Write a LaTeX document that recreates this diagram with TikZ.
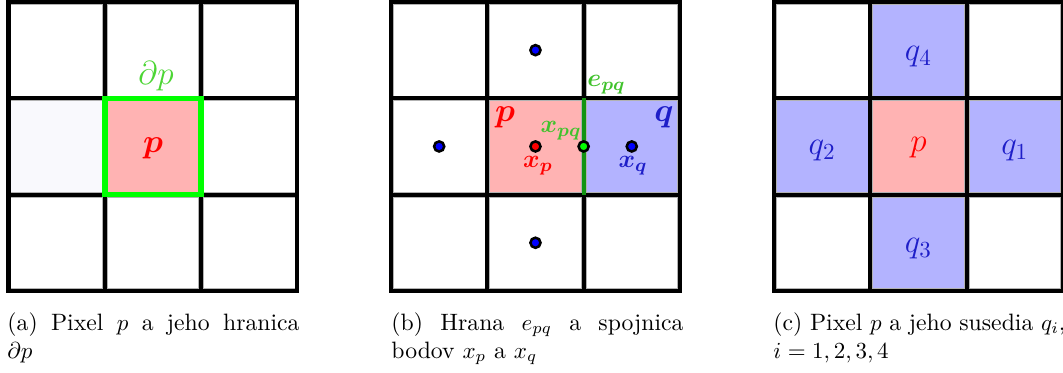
\documentclass[tikz,border=0pt]{standalone}
\usepackage{amsmath,bm}
\usetikzlibrary{calc}
\definecolor{pfill}{HTML}{FFB3B3}
\definecolor{qfill}{HTML}{B3B3FF}
\definecolor{faint}{HTML}{F9F9FD}
\definecolor{lgreen}{HTML}{4CD634}
\definecolor{egreen}{HTML}{40C22C}
\definecolor{dgreen}{HTML}{129412}
\definecolor{qblue}{HTML}{1E1EC8}
\definecolor{bgreen}{HTML}{00FF00}
\tikzset{
  cell/.style={rectangle, draw=gray!60, line width=0.3pt, inner sep=0pt, minimum size=39.9pt},
  gridline/.style={line width=1.8pt, line cap=rect},
  dotm/.style={circle, draw=black, line width=1.1pt, inner sep=0pt, minimum size=4.4pt},
  lab/.style={inner sep=0pt},
  capt/.style={anchor=base west, inner sep=0pt, font=\fontsize{10.3}{12.4}\selectfont},
  seg/.style={line width=0.9pt}
}
\begin{document}
\begin{tikzpicture}[x=0.4348pt,y=-0.4348pt]
\useasboundingbox (0,0) rectangle (1063,372);
% cells
\foreach \pn/\ox/\cols in {
  a/8.5/{white,white,white,faint,pfill,white,white,white,white},
  b/391/{white,white,white,white,pfill,qfill,white,white,white},
  c/774/{white,qfill,white,qfill,pfill,qfill,white,qfill,white}}{
  \foreach \f [count=\k from 0] in \cols {
    \pgfmathtruncatemacro\ii{mod(\k,3)}
    \pgfmathtruncatemacro\jj{\k/3}
    \node[cell, fill=\f] (\pn\ii\jj) at ({\ox+(\ii+0.5)*96.3},{2+(\jj+0.5)*96.3}) {};
  }
  \foreach \k in {0,1,2,3}{
    \draw[gridline] ({\ox+\k*96.3},2) -- ({\ox+\k*96.3},{2+3*96.3});
    \draw[gridline] (\ox,{2+\k*96.3}) -- ({\ox+3*96.3},{2+\k*96.3});
  }
}
% panel (a)
\draw[bgreen, line width=2.4pt] ({8.5+96.3},{2+96.3}) rectangle ({8.5+2*96.3},{2+2*96.3});
\node[lab, text=red] (pa) at (153,148) {\fontsize{14}{16}\selectfont$\boldsymbol{p}$};
\node[lab, text=lgreen] (dpa) at (156,76) {\fontsize{14.4}{17}\selectfont$\partial p$};
% panel (b)
\draw[dgreen, line width=1.7pt] ({391+2*96.3},{2+96.3}) -- ({391+2*96.3},{2+2*96.3});
\coordinate (cpq) at ({391+2*96.3},{2+1.5*96.3});
\draw[seg] (b11) -- (cpq) -- (b21);
\node[dotm, fill=blue] (dtop) at (b10) {};
\node[dotm, fill=blue] (dleft) at (b01) {};
\node[dotm, fill=blue] (dbot) at (b12) {};
\node[dotm, fill=red] (xp) at (b11) {};
\node[dotm, fill=bgreen] (xpq) at (cpq) {};
\node[dotm, fill=blue] (xq) at (b21) {};
\node[lab, text=red] (pb) at (505,117.5) {\fontsize{14}{16}\selectfont$\boldsymbol{p}$};
\node[lab, text=qblue] (qb) at (664,117.5) {\fontsize{14}{16}\selectfont$\boldsymbol{q}$};
\node[lab, text=egreen] (lxpq) at (561,131) {\fontsize{11}{13}\selectfont$\boldsymbol{x_{pq}}$};
\node[lab, text=red] (lxp) at (538,166) {\fontsize{11}{13}\selectfont$\boldsymbol{x_{p}}$};
\node[lab, text=qblue] (lxq) at (633,166) {\fontsize{11}{13}\selectfont$\boldsymbol{x_{q}}$};
\node[lab, text=egreen] (lepq) at (606.5,84.5) {\fontsize{11}{13}\selectfont$\boldsymbol{e_{pq}}$};
% panel (c)
\node[lab, text=qblue] (q4) at ($(c10)+(0,6)$) {\fontsize{14.4}{17}\selectfont$q_4$};
\node[lab, text=qblue] (q2) at ($(c01)+(0,4)$) {\fontsize{14.4}{17}\selectfont$q_2$};
\node[lab, text=red] (pc) at ($(c11)+(0,1)$) {\fontsize{14.4}{17}\selectfont$p$};
\node[lab, text=qblue] (q1) at ($(c21)+(0,4)$) {\fontsize{14.4}{17}\selectfont$q_1$};
\node[lab, text=qblue] (q3) at ($(c12)+(0,6)$) {\fontsize{14.4}{17}\selectfont$q_3$};
% captions
\node[capt] (capa) at (7,330) {\parbox[t]{127pt}{(a) Pixel $p$ a jeho hranica\linebreak $\partial p$}};
\node[capt] (capb) at (391,330) {\parbox[t]{127pt}{(b) Hrana $e_{pq}$ a spojnica\linebreak bodov $x_p$ a $x_q$}};
\node[capt] (capc) at (773,330) {\parbox[t]{127pt}{(c) Pixel $p$ a jeho susedia $q_i$,\linebreak $i=1,2,3,4$}};
\end{tikzpicture}
\end{document}
